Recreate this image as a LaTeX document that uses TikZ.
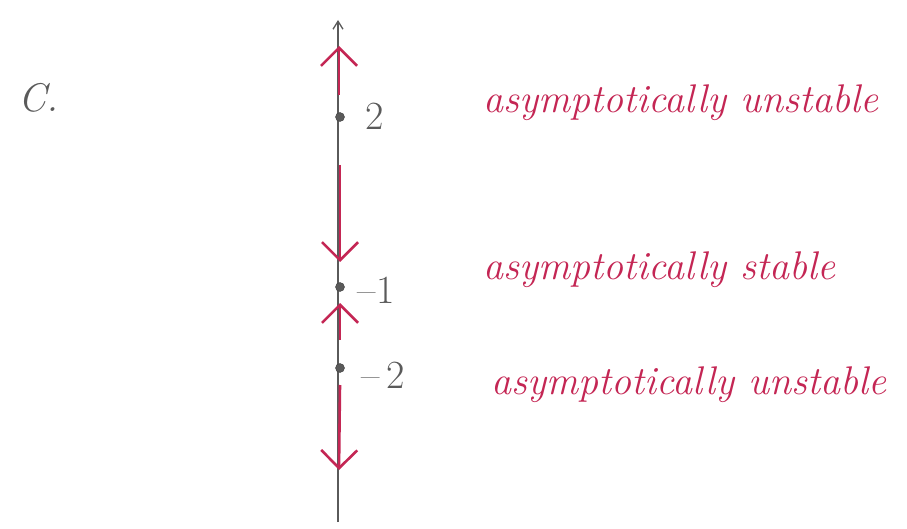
\documentclass[tikz,border=0pt]{standalone}
\usetikzlibrary{arrows.meta}
\definecolor{pen}{RGB}{196,38,84}
\definecolor{pencil}{RGB}{90,90,90}
\tikzset{
  eqpt/.style={circle,fill=pencil,draw=pencil!70!black,inner sep=0pt,minimum size=9pt},
  flow/.style={draw=pen,line width=2.6pt,-{Straight Barb[length=18pt,width=36pt,line width=2.6pt]}},
  axis/.style={draw=pencil,line width=1.3pt},
  numlab/.style={text=pencil,font=\fontsize{40}{42}\selectfont,anchor=west},
  redlab/.style={text=pen,font=\itshape\fontsize{40}{44}\selectfont,anchor=west}
}
\begin{document}
\begin{tikzpicture}[x=1pt,y=-1pt]
\useasboundingbox (0,0) rectangle (907,529);
\coordinate (top) at (338,20);
\coordinate (bot) at (338,522);
\draw[axis,-{Straight Barb[length=8pt,width=10pt]}] (bot) -- (top);
\node[eqpt] (p2) at (340,117) {};
\node[eqpt] (m1) at (340,287) {};
\node[eqpt] (m2) at (340,368) {};
\node[numlab] (l2) at (362,116) {2};
\node[numlab] (lm1) at (354,290) {\textendash\kern1pt1};
\node[numlab] (lm2) at (358,375) {\textendash\,2};
\coordinate (a1s) at (339,95);
\coordinate (a1e) at (339,46);
\coordinate (a2s) at (340,165);
\coordinate (a2e) at (340,262);
\coordinate (a3s) at (340,340);
\coordinate (a3e) at (340,303);
\coordinate (a4s) at (340,385);
\coordinate (a4e) at (339,470);
\draw[flow] (a1s) -- (a1e);
\draw[flow] (a2s) -- (a2e);
\draw[flow] (a3s) -- (a3e);
\draw[flow] (a4s) -- (a4e);
\node[text=pencil,font=\itshape\fontsize{40}{42}\selectfont] (c) at (38,98) {C.};
\node[redlab] (t1) at (480,103) {asymptotically unstable};
\node[redlab] (t2) at (480,270) {asymptotically stable};
\node[redlab] (t3) at (488,385) {asymptotically unstable};
\end{tikzpicture}
\end{document}
